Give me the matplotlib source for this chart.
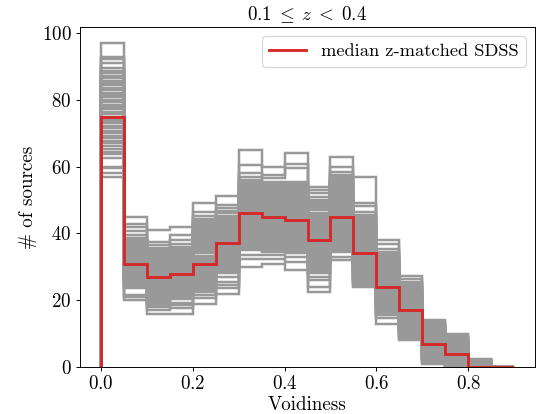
import numpy as np
import matplotlib
matplotlib.use("Agg")
import matplotlib.pyplot as plt

# ---- data ----
bin_edges = [0.00, 0.05, 0.10, 0.15, 0.20, 0.25, 0.30, 0.35, 0.40, 0.45,
             0.50, 0.55, 0.60, 0.65, 0.70, 0.75, 0.80, 0.85, 0.90]

median_counts = [75, 31, 27, 28, 31, 37, 46, 45, 44, 38, 45, 34, 24, 17, 7, 4, 0, 0]

# counts of the individual z-matched realizations in each bin (sorted, one list per bin)
bin00 = [97, 93, 92.3, 91, 89.5, 88.7, 88, 87.2, 86.5, 85.8, 85, 84.4, 83.6, 83, 82.2,
         81.5, 80.8, 80, 79.4, 78.6, 78, 77.2, 76.5, 75.8, 75, 74.4, 73.6, 73, 72.2, 71.5,
         70.8, 70, 69.3, 68.6, 67.8, 67, 66.2, 65.4, 64.5, 63.7, 62.6, 60, 59.6, 58, 57]
bin01 = [45, 42.8, 41.8, 40.8, 39.5, 38.6, 38.1, 37.7, 37.4, 36.9, 36.5, 36.2, 35.7, 35.3,
         35, 34.5, 34.1, 33.8, 33.3, 32.9, 32.6, 32.1, 31.7, 31.3, 30.9, 30.5, 30.1, 29.7,
         29.3, 28.9, 28.5, 28.1, 27.7, 27.3, 26.9, 26.5, 26.1, 25.7, 25.3, 25, 24.3, 23.6,
         21.5, 20.9, 20]
bin02 = [41, 37.5, 36.5, 35.5, 35, 34.6, 34.1, 33.7, 33.2, 32.8, 32.4, 31.9, 31.5, 31.1,
         30.6, 30.2, 29.8, 29.3, 28.9, 28.5, 28, 27.6, 27.2, 26.7, 26.3, 25.9, 25.4, 25,
         24.6, 24.1, 23.7, 23.3, 22.8, 22.4, 22, 21.5, 21.1, 20.7, 20.2, 19.8, 19.3, 18.6,
         18, 17, 16]
bin03 = [42, 39.5, 38, 36.7, 36, 35.6, 35.1, 34.7, 34.3, 33.8, 33.4, 33, 32.5, 32.1, 31.7,
         31.2, 30.8, 30.4, 29.9, 29.5, 29.1, 28.6, 28.2, 27.8, 27.3, 26.9, 26.5, 26, 25.6,
         25.2, 24.7, 24.3, 23.9, 23.4, 23, 22.6, 22.1, 21.7, 21.3, 20.8, 20.3, 19.2, 18.6,
         17.6, 16]
bin04 = [49, 46.3, 45.2, 44.4, 43.8, 43.2, 42.6, 42, 41.5, 40.9, 40.3, 39.8, 39.2, 38.6,
         38, 37.5, 36.9, 36.3, 35.7, 35.2, 34.6, 34, 33.4, 32.9, 32.3, 31.7, 31.1, 30.6, 30,
         29.5, 28.9, 28.3, 27.7, 27.2, 26.6, 26, 25.4, 24.9, 24.3, 23.7, 23.1, 22.4, 21.5,
         20.6, 19]
bin05 = [51.2, 48.5, 47.6, 46.8, 46, 45.3, 44.8, 44.3, 43.8, 43.3, 42.8, 42.3, 41.8, 41.3,
         40.8, 40.3, 39.8, 39.3, 38.8, 38.3, 37.8, 37.3, 36.8, 36.3, 35.8, 35.3, 34.8, 34.3,
         33.8, 33.3, 32.8, 32.3, 31.8, 31.3, 30.8, 30.3, 29.8, 29.3, 28.8, 28.3, 27, 25.5,
         24.5, 23.6, 22]
bin06 = [65, 60.5, 58, 57, 56, 55.3, 54.7, 54.2, 53.6, 53.1, 52.5, 51.9, 51.4, 50.8, 50.3,
         49.7, 49.1, 48.6, 48, 47.5, 46.9, 46.3, 45.8, 45.2, 44.7, 44.1, 43.5, 43, 42.4,
         41.9, 41.3, 40.7, 40.2, 39.6, 39.1, 38.5, 37.9, 37.4, 36.8, 36.3, 35.7, 35.1, 33.5,
         32.5, 30]
bin07 = [60, 57.5, 56.5, 55.5, 55, 54.4, 53.9, 53.3, 52.8, 52.2, 51.6, 51.1, 50.5, 50,
         49.4, 48.8, 48.3, 47.7, 47.2, 46.6, 46, 45.5, 44.9, 44.4, 43.8, 43.2, 42.7, 42.1,
         41.6, 41, 40.4, 39.9, 39.3, 38.8, 38.2, 37.6, 37.1, 36.5, 36, 35.4, 34.8, 34.3,
         33.5, 32.5, 31]
bin08 = [64, 60.8, 59.5, 55.5, 54.8, 54.2, 53.7, 53.1, 52.6, 52, 51.4, 50.9, 50.3, 49.8,
         49.2, 48.6, 48.1, 47.5, 47, 46.4, 45.8, 45.3, 44.7, 44.2, 43.6, 43, 42.5, 41.9,
         41.4, 40.8, 40.2, 39.7, 39.1, 38.6, 38, 37.4, 36.9, 36.3, 35.8, 35.2, 34.6, 34.1,
         33, 31.5, 29.2]
bin09 = [54, 53, 52, 51, 50, 49.3, 48.7, 48.1, 47.5, 46.9, 46.2, 45.6, 45, 44.4, 43.8,
         43.2, 42.6, 42, 41.4, 40.8, 40.2, 39.6, 39, 38.4, 37.8, 37.2, 36.6, 36, 35.4, 34.8,
         34.1, 33.5, 32.9, 32.3, 31.7, 31.1, 30.5, 29.9, 29.3, 28.7, 28.1, 27, 26, 24, 22.5]
bin10 = [63, 60, 58.5, 57.5, 56.9, 56.3, 55.7, 55.1, 54.5, 53.9, 53.3, 52.7, 52.1, 51.5,
         50.9, 50.4, 49.8, 49.2, 48.6, 48, 47.4, 46.8, 46.2, 45.6, 45, 44.4, 43.8, 43.2,
         42.6, 42, 41.4, 40.8, 40.2, 39.6, 39, 38.4, 37.8, 37.2, 36.6, 36, 35.4, 34.9, 34.3,
         33, 32]
bin11 = [57, 49, 48.2, 46.5, 45.5, 44.8, 44.3, 43.7, 43.2, 42.7, 42.2, 41.6, 41.1, 40.6,
         40.1, 39.5, 39, 38.5, 38, 37.4, 36.9, 36.4, 35.9, 35.3, 34.8, 34.3, 33.8, 33.2,
         32.7, 32.2, 31.7, 31.1, 30.6, 30.1, 29.6, 29, 28.5, 28, 27.5, 26.9, 26.4, 25.9,
         25.3, 24.5, 24]
bin12 = [38, 36.8, 35.2, 34.5, 34, 33.5, 33.1, 32.6, 32.1, 31.6, 31.1, 30.7, 30.2, 29.7,
         29.2, 28.7, 28.3, 27.8, 27.3, 26.8, 26.3, 25.9, 25.4, 24.9, 24.4, 23.9, 23.5, 23,
         22.5, 22, 21.5, 21.1, 20.6, 20.1, 19.6, 19.1, 18.7, 18.2, 17.7, 17.2, 16.7, 16.3,
         15.6, 14.7, 13]
bin13 = [27.2, 26.5, 25.5, 25, 24.6, 24.2, 23.8, 23.4, 23, 22.6, 22.2, 21.8, 21.4, 21,
         20.6, 20.2, 19.8, 19.4, 19, 18.6, 18.2, 17.8, 17.4, 17, 16.6, 16.2, 15.8, 15.4, 15,
         14.6, 14.2, 13.8, 13.4, 13, 12.6, 12.2, 11.8, 11.4, 11, 10.6, 10.2, 9.9, 9.4, 8.6, 8]
bin14 = [14, 13.4, 13, 12.7, 12.5, 12.2, 11.9, 11.6, 11.4, 11.1, 10.8, 10.5, 10.3, 10, 9.7,
         9.4, 9.2, 8.9, 8.6, 8.3, 8.1, 7.8, 7.5, 7.2, 7, 6.7, 6.4, 6.1, 5.9, 5.6, 5.3, 5, 4.8,
         4.5, 4.2, 3.9, 3.7, 3.4, 3.1, 2.8, 2.6, 2.3, 2, 1.4, 1]
bin15 = [10, 9.4, 9, 8.8, 8.6, 8.4, 8.1, 7.9, 7.7, 7.5, 7.3, 7.1, 6.9, 6.6, 6.4, 6.2, 6,
         5.8, 5.6, 5.4, 5.1, 4.9, 4.7, 4.5, 4.3, 4.1, 3.9, 3.6, 3.4, 3.2, 3, 2.8, 2.6, 2.4,
         2.1, 1.9, 1.7, 1.5, 1.3, 1.1, 0.9, 0.6, 0.4, 0.2, 0]
bin16 = [2.3, 2.2, 2.2, 2.1, 2.1, 2, 2, 1.9, 1.9, 1.8, 1.8, 1.7, 1.7, 1.6, 1.6, 1.5, 1.5,
         1.4, 1.4, 1.3, 1.3, 1.2, 1.2, 1.1, 1.1, 1, 1, 0.9, 0.9, 0.8, 0.8, 0.7, 0.7, 0.6,
         0.6, 0.5, 0.5, 0.4, 0.4, 0.3, 0.3, 0.2, 0.1, 0, 0]
bin17 = [0] * 45

realization_counts = [bin00, bin01, bin02, bin03, bin04, bin05, bin06, bin07, bin08,
                      bin09, bin10, bin11, bin12, bin13, bin14, bin15, bin16, bin17]

title = r"$0.1\;\leq\;z\;<\;0.4$"
xlabel = "Voidiness"
ylabel = r"# of sources"
legend_label = "median z-matched SDSS"

# ---- style ----
plt.rcParams["font.family"] = "serif"
plt.rcParams["font.serif"] = ["cmr10"]
plt.rcParams["mathtext.fontset"] = "cm"
plt.rcParams["axes.formatter.use_mathtext"] = True
plt.rcParams["font.size"] = 16

dpi = 85.5
fig = plt.figure(figsize=(547 / dpi, 414 / dpi), dpi=dpi)
ax = fig.add_axes([80 / 547, 47 / 414, 455 / 547, 340 / 414])

edges = np.array(bin_edges)
real = np.array(realization_counts, dtype=float).T  # shape (n_real, n_bins)

for row in real:
    ax.stairs(row, edges, baseline=0, color="#999999", lw=2.1)

ax.stairs(np.array(median_counts, dtype=float), edges, baseline=0,
          color="#d62728", lw=2.4, label=legend_label, zorder=5)

ax.set_xlim(-0.045, 0.945)
ax.set_ylim(0, 101.85)
ax.set_xticks([0.0, 0.2, 0.4, 0.6, 0.8])
ax.set_yticks([0, 20, 40, 60, 80, 100])
ax.set_xlabel(xlabel, labelpad=2)
ax.set_ylabel(ylabel)
ax.set_title(title, fontsize=16)
ax.legend(loc="upper right", fontsize=15.5)

fig.savefig("out.png", dpi=dpi)
